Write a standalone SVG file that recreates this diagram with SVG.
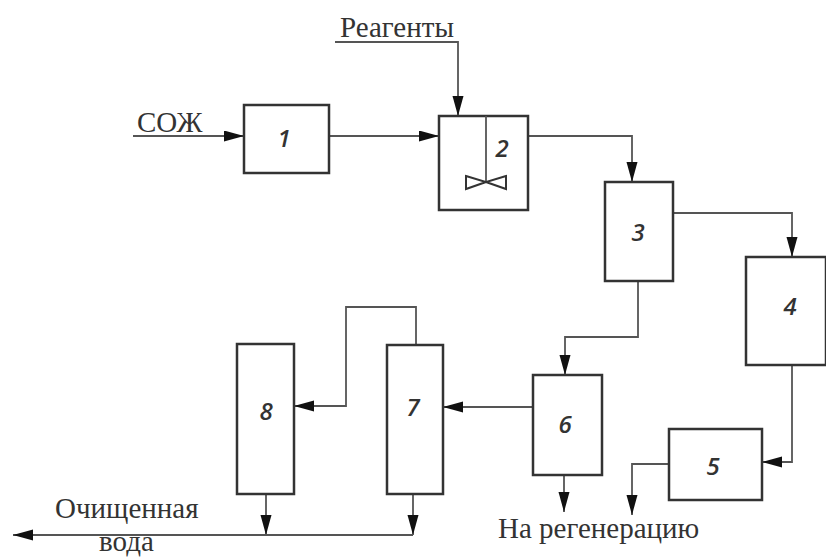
<svg xmlns="http://www.w3.org/2000/svg" width="826" height="557" viewBox="0 0 826 557">
<style>
.box{fill:#fff;stroke:#333;stroke-width:2.5}
.ln{fill:none;stroke:#555;stroke-width:1.8}
.num{font-family:"Open Sans","DejaVu Sans",sans-serif;font-style:italic;font-weight:600;font-size:24px;fill:#333;text-anchor:middle}
.lbl{font-family:"Liberation Serif","Times New Roman",serif;font-size:29px;fill:#333}
</style>
<defs>
<marker id="ah" markerUnits="userSpaceOnUse" markerWidth="22" markerHeight="12" refX="20" refY="5.5" orient="auto">
<path d="M0,0 L20,5.5 L0,11 Z" fill="#111"/>
</marker>
</defs>
<rect width="826" height="557" fill="#fff"/>
<g id="connectors">
<path class="ln" d="M133,136 H244" marker-end="url(#ah)"/>
<path class="ln" d="M335,42 H458 V116" marker-end="url(#ah)"/>
<path class="ln" d="M329,136 H439" marker-end="url(#ah)"/>
<path class="ln" d="M528,136 H632 V182" marker-end="url(#ah)"/>
<path class="ln" d="M673,213 H792 V257" marker-end="url(#ah)"/>
<path class="ln" d="M638,281 V337 H565 V375" marker-end="url(#ah)"/>
<path class="ln" d="M792,365 V462 H762" marker-end="url(#ah)"/>
<path class="ln" d="M669,464 H632 V515" marker-end="url(#ah)"/>
<path class="ln" d="M564,475 V512" marker-end="url(#ah)"/>
<path class="ln" d="M533,407 H443" marker-end="url(#ah)"/>
<path class="ln" d="M416,345 V307 H346 V406 H294" marker-end="url(#ah)"/>
<path class="ln" d="M266,494 V535" marker-end="url(#ah)"/>
<path class="ln" d="M413,494 V535" marker-end="url(#ah)"/>
<path class="ln" d="M413,535 H13" marker-end="url(#ah)"/>
</g>
<g id="n1"><rect class="box" x="244" y="105" width="85" height="68"/><text class="num" x="284" y="147">1</text></g>
<g id="n2"><rect class="box" x="439" y="116" width="89" height="94"/>
<path class="ln" d="M486,116 V182" stroke="#333" stroke-width="2"/>
<path d="M466,176 L486,182 L466,189 Z M506,176 L486,182 L506,189 Z" fill="none" stroke="#333" stroke-width="2"/>
<text class="num" x="502" y="157">2</text></g>
<g id="n3"><rect class="box" x="605" y="182" width="68" height="99"/><text class="num" x="638" y="241">3</text></g>
<g id="n4"><rect class="box" x="746" y="257" width="80" height="108"/><text class="num" x="790" y="315">4</text></g>
<g id="n5"><rect class="box" x="669" y="429" width="93" height="71"/><text class="num" x="713" y="475">5</text></g>
<g id="n6"><rect class="box" x="533" y="375" width="69" height="100"/><text class="num" x="565" y="433">6</text></g>
<g id="n7"><rect class="box" x="387" y="345" width="56" height="149"/><text class="num" x="413" y="416">7</text></g>
<g id="n8"><rect class="box" x="237" y="344" width="57" height="150"/><text class="num" x="266" y="420">8</text></g>
<g id="labels">
<text class="lbl" x="340" y="37">Реагенты</text>
<text class="lbl" x="137" y="132" font-size="28">СОЖ</text>
<text class="lbl" x="498" y="538">На регенерацию</text>
<text class="lbl" x="55" y="518">Очищенная</text>
<text class="lbl" x="99" y="551" font-size="26">вода</text>
</g>
</svg>
